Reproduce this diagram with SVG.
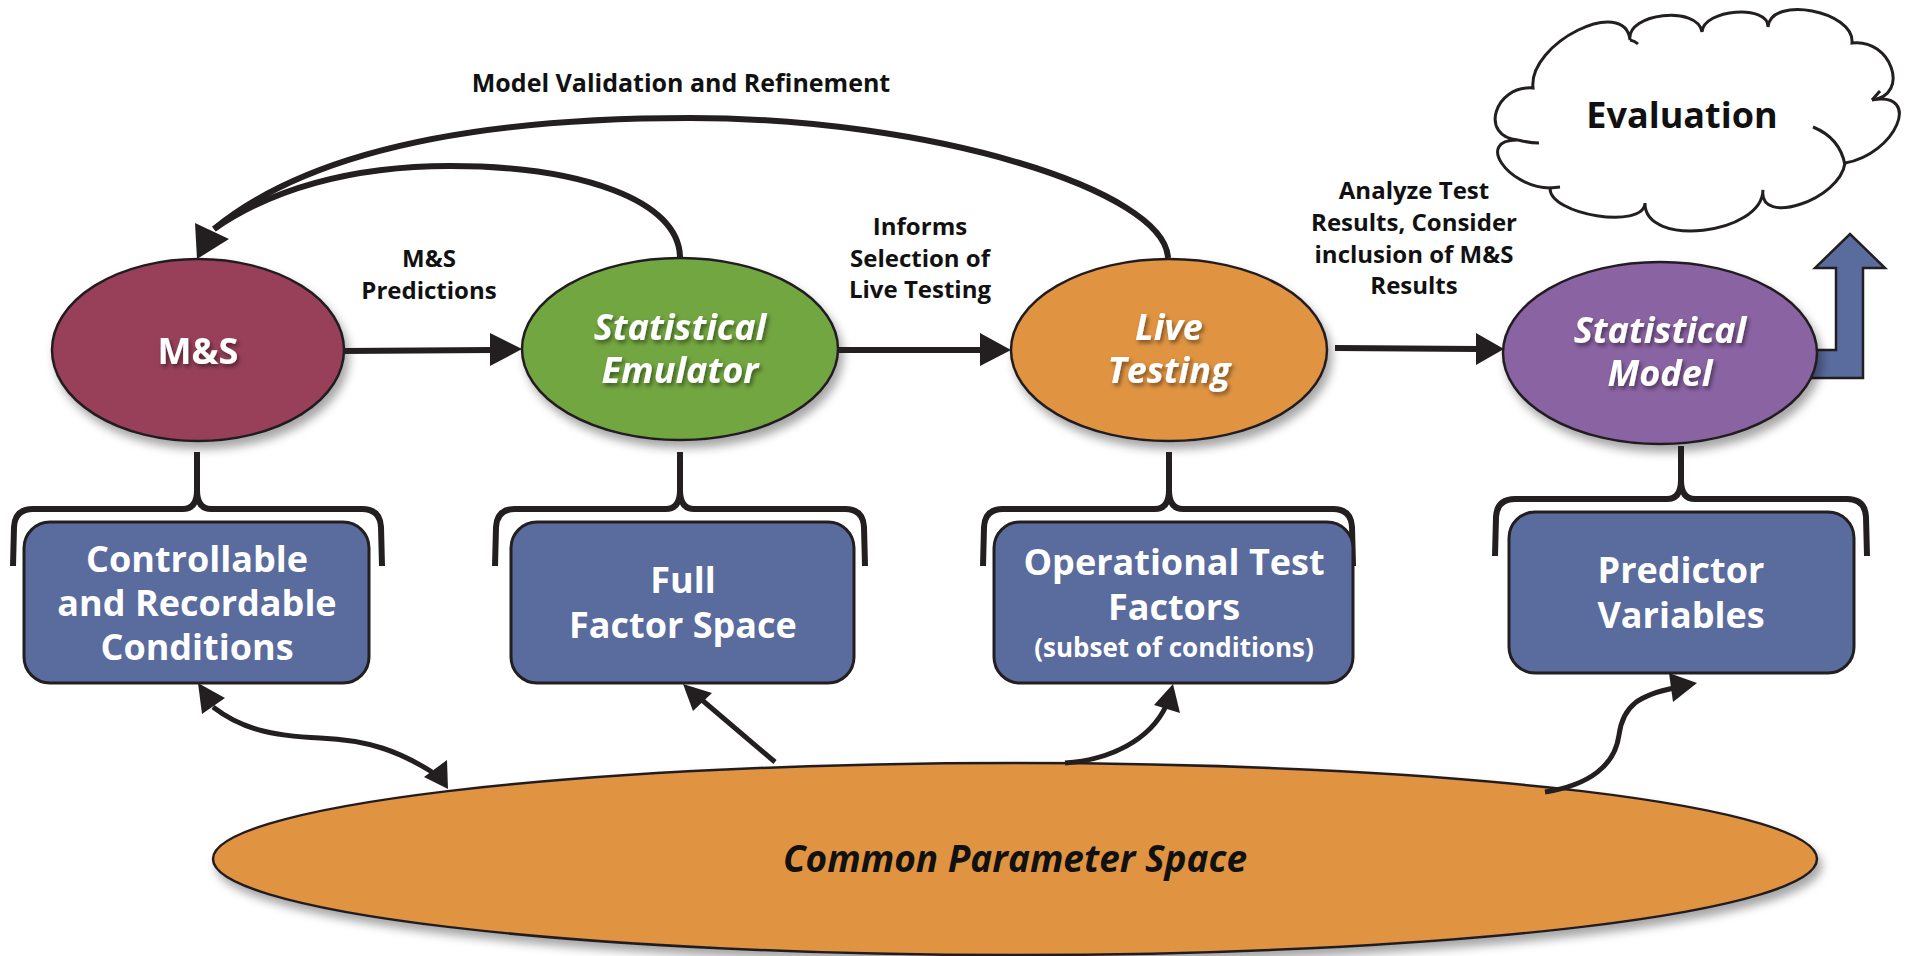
<svg xmlns="http://www.w3.org/2000/svg" width="1906" height="956" viewBox="0 0 1906 956">
<defs>
<filter id="sh" x="-10%" y="-10%" width="125%" height="130%">
<feDropShadow dx="4" dy="7" stdDeviation="5" flood-color="#000" flood-opacity="0.35"/>
</filter>
<filter id="tsh" x="-10%" y="-20%" width="120%" height="150%">
<feDropShadow dx="2" dy="3" stdDeviation="2" flood-color="#000" flood-opacity="0.45"/>
</filter>
<style>
.node{stroke:#231f20;stroke-width:2.5}
.box{fill:#5a6b9e;stroke:#231f20;stroke-width:3}
.wt{font-family:"Open Sans","Liberation Sans",sans-serif;font-weight:700;fill:#fff;text-anchor:middle}
.bt{font-family:"Open Sans","Liberation Sans",sans-serif;font-weight:700;fill:#111;text-anchor:middle}
.it{font-style:italic}
.ln{fill:none;stroke:#231f20;stroke-width:6;stroke-linecap:butt}
.ln2{fill:none;stroke:#231f20;stroke-width:5}
.ah{fill:#231f20}
.brace{fill:none;stroke:#231f20;stroke-width:6;stroke-linejoin:round}
</style>
</defs>
<rect width="1906" height="956" fill="#fff"/>

<g id="evaluation">
<path d="M1533 88 C1528 43 1625 -5 1630 40 C1626 13 1698 5 1702 32 C1703 9 1769 4 1768 27 C1771 -5 1855 11 1852 43 C1891 38 1911 95 1872 100 C1923 91 1896 154 1845 163 C1840 200 1758 227 1763 190 C1762 235 1644 248 1645 203 C1644 230 1549 215 1550 188 C1507 187 1475 139 1518 140 C1479 137 1494 85 1533 88 Z" fill="#fff" stroke="#231f20" stroke-width="3"/>
<path d="M1813 127 Q1840 138 1845 165 M1518 140 Q1530 143 1539 143 M1550 188 L1560 187 M1630 40 Q1635 41 1638 44 M1872 100 L1880 91" fill="none" stroke="#231f20" stroke-width="3"/>
<text class="bt" x="1682" y="128" font-size="36">Evaluation</text>
</g>

<g id="blue-arrow">
<polygon points="1805,350 1836,350 1836,268 1815,268 1850,234 1885,268 1863,268 1863,378 1805,378" fill="#5a6b9e" stroke="#231f20" stroke-width="2.5"/>
</g>

<g id="common-parameter-space">
<ellipse cx="1015" cy="859" rx="802" ry="96" fill="#e09442" class="node" filter="url(#sh)"/>
<text class="bt it" x="1015" y="872" font-size="37" fill="#000">Common Parameter Space</text>
</g>

<g id="ms">
<ellipse cx="198" cy="350" rx="146" ry="91" fill="#983f5a" class="node" filter="url(#sh)"/>
<text class="wt" x="198" y="364" font-size="36" filter="url(#tsh)">M&amp;S</text>
</g>

<g id="emulator">
<ellipse cx="680" cy="349" rx="158" ry="91" fill="#72a640" class="node" filter="url(#sh)"/>
<text class="wt it" font-size="36" filter="url(#tsh)"><tspan x="680" y="340">Statistical</tspan><tspan x="680" y="383">Emulator</tspan></text>
</g>

<g id="live-testing">
<ellipse cx="1169" cy="350" rx="158" ry="91" fill="#e09442" class="node" filter="url(#sh)"/>
<text class="wt it" font-size="36" filter="url(#tsh)"><tspan x="1169" y="340">Live</tspan><tspan x="1169" y="383">Testing</tspan></text>
</g>

<g id="statistical-model">
<ellipse cx="1660" cy="353" rx="157" ry="91" fill="#8a63a3" class="node" filter="url(#sh)"/>
<text class="wt it" font-size="36" filter="url(#tsh)"><tspan x="1660" y="343">Statistical</tspan><tspan x="1660" y="386">Model</tspan></text>
</g>

<g id="braces">
<path class="brace" d="M13 566 L14 527 Q15 509 33 509 L183 509 Q197 509 197 490 L197 452 M197 490 Q197 509 211 509 L362 509 Q380 509 381 527 L382 566"/>
<path class="brace" d="M495 566 L496 527 Q497 509 515 509 L666 509 Q680 509 680 490 L680 452 M680 490 Q680 509 694 509 L845 509 Q863 509 864 527 L865 566"/>
<path class="brace" d="M983 566 L984 527 Q985 509 1003 509 L1155 509 Q1169 509 1169 490 L1169 452 M1169 490 Q1169 509 1183 509 L1333 509 Q1351 509 1352 527 L1353 566"/>
<path class="brace" d="M1495 556 L1496 517 Q1497 499 1515 499 L1667 499 Q1681 499 1681 480 L1681 446 M1681 480 Q1681 499 1695 499 L1847 499 Q1865 499 1866 517 L1867 556"/>
</g>

<g id="box-controllable">
<rect class="box" x="24" y="522" width="345" height="161" rx="26"/>
<text class="wt" font-size="36"><tspan x="197" y="572">Controllable</tspan><tspan x="197" y="616">and Recordable</tspan><tspan x="197" y="660">Conditions</tspan></text>
</g>

<g id="box-full-factor">
<rect class="box" x="511" y="522" width="343" height="161" rx="26"/>
<text class="wt" font-size="36"><tspan x="683" y="593">Full</tspan><tspan x="683" y="638">Factor Space</tspan></text>
</g>

<g id="box-operational">
<rect class="box" x="994" y="522" width="359" height="161" rx="26"/>
<text class="wt" font-size="36"><tspan x="1174" y="575">Operational Test</tspan><tspan x="1174" y="620">Factors</tspan></text>
<text class="wt" x="1174" y="657" font-size="26">(subset of conditions)</text>
</g>

<g id="box-predictor">
<rect class="box" x="1509" y="512" width="345" height="161" rx="26"/>
<text class="wt" font-size="36"><tspan x="1681" y="583">Predictor</tspan><tspan x="1681" y="628">Variables</tspan></text>
</g>

<g id="connectors">
<path class="ln" d="M343 351 L492 350"/>
<polygon class="ah" points="522,349 490,333 490,366"/>
<path class="ln" d="M838 350 L982 350"/>
<polygon class="ah" points="1011,350 980,333 980,366"/>
<path class="ln" d="M1335 348 L1478 349"/>
<polygon class="ah" points="1504,349 1476,333 1476,365"/>
<path class="ln" d="M1168 258 C1165 190 930 118 690 118 C480 118 310 150 214 229"/>
<path class="ln" d="M680 258 C680 200 580 166 450 166 C350 166 270 190 214 229"/>
<polygon class="ah" points="197,259 195,223 229,239"/>
<path class="ln2" d="M213 707 C240 728 270 736 320 738 C370 740 400 752 432 772"/>
<polygon class="ah" points="198,683 202,714 225,698"/>
<polygon class="ah" points="448,789 424,777 447,760"/>
<path class="ln2" d="M775 762 L702 700"/>
<polygon class="ah" points="683,684 693,711 712,693"/>
<path class="ln2" d="M1065 763 C1110 760 1150 740 1166 706"/>
<polygon class="ah" points="1173,684 1154,705 1180,713"/>
<path class="ln2" d="M1545 792 C1590 785 1615 765 1619 735 C1623 705 1640 695 1674 688"/>
<polygon class="ah" points="1697,683 1669,673 1673,702"/>
</g>

<g id="labels">
<text class="bt" x="681" y="92" font-size="25">Model Validation and Refinement</text>
<text class="bt" font-size="24"><tspan x="429" y="267">M&amp;S</tspan><tspan x="429" y="299">Predictions</tspan></text>
<text class="bt" font-size="24"><tspan x="920" y="235">Informs</tspan><tspan x="920" y="267">Selection of</tspan><tspan x="920" y="298">Live Testing</tspan></text>
<text class="bt" font-size="24"><tspan x="1414" y="199">Analyze Test</tspan><tspan x="1414" y="231">Results, Consider</tspan><tspan x="1414" y="263">inclusion of M&amp;S</tspan><tspan x="1414" y="294">Results</tspan></text>
</g>
</svg>
